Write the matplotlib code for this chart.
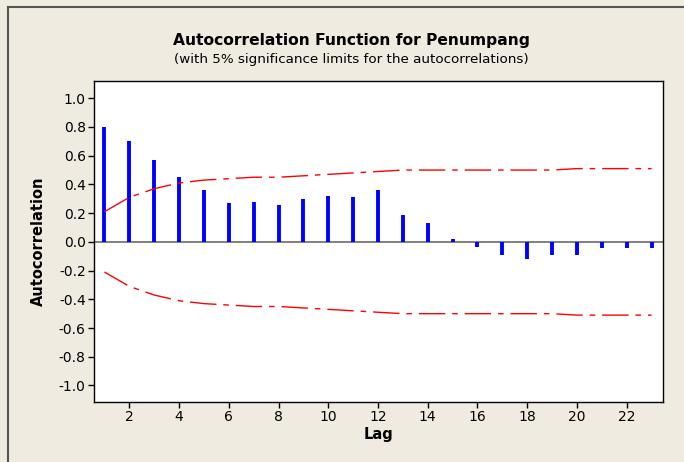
# ACF plot for Penumpang, Minitab style

import matplotlib
matplotlib.use('Agg')
import matplotlib.pyplot as plt
from matplotlib.lines import Line2D
import numpy as np

lags = np.arange(1, 24)
acf = [0.80, 0.70, 0.57, 0.45, 0.36, 0.27, 0.28, 0.26, 0.30, 0.32, 0.31, 0.36,
       0.19, 0.13, 0.02, -0.035, -0.09, -0.12, -0.09, -0.09, -0.04, -0.045, -0.045]
upper = [0.21, 0.31, 0.37, 0.41, 0.43, 0.44, 0.45, 0.45, 0.46, 0.47, 0.48, 0.49,
         0.50, 0.50, 0.50, 0.50, 0.50, 0.50, 0.50, 0.51, 0.51, 0.51, 0.51]
lower = [-u for u in upper]
yticks = np.round(np.arange(-1.0, 1.01, 0.2), 1)
xticks = np.arange(2, 23, 2)

bg = '#EFEBE1'
fig = plt.figure(figsize=(6.84, 4.62), dpi=100, facecolor=bg)
ax = fig.add_axes([94/684, 1-402/462, 569/684, 321/462])
ax.set_facecolor('white')

ax.axhline(0, color='#808080', lw=1.4, zorder=1)
ax.vlines(lags, 0, acf, colors='#0000FF', lw=2.8, zorder=2)
ax.plot(lags, upper, color='#FF0000', lw=1.0, dashes=(19, 5, 4, 5), zorder=3)
ax.plot(lags, lower, color='#FF0000', lw=1.0, dashes=(19, 5, 4, 5), zorder=3)

ax.set_xlim(0.58, 23.46)
ax.set_ylim(-1.115, 1.12)
ax.set_xticks(xticks)
ax.set_yticks(yticks)
ax.set_yticklabels(['%.1f' % (v + 0.0) for v in yticks])
ax.tick_params(direction='out', length=4, width=1, labelsize=10, pad=2,
               colors='black')
for s in ax.spines.values():
    s.set_linewidth(1.0)
    s.set_color('black')

ax.set_xlabel('Lag', fontsize=10.5, fontweight='bold', labelpad=2)
ax.set_ylabel('Autocorrelation', fontsize=10.5, fontweight='bold', labelpad=9)

fig.text(351/684, 1-40/462, 'Autocorrelation Function for Penumpang',
         ha='center', va='center', fontsize=11.2, fontweight='bold')
fig.text(351/684, 1-60/462, '(with 5% significance limits for the autocorrelations)',
         ha='center', va='center', fontsize=9.7)

# outer frame (only top and left edges are visible in the crop)
fig.add_artist(Line2D([8/684, 1], [1-7/462, 1-7/462], transform=fig.transFigure,
                      color='#555555', lw=1.5))
fig.add_artist(Line2D([8/684, 8/684], [0, 1-7/462], transform=fig.transFigure,
                      color='#555555', lw=1.5))

fig.savefig('out.png', dpi=100, facecolor=bg)
